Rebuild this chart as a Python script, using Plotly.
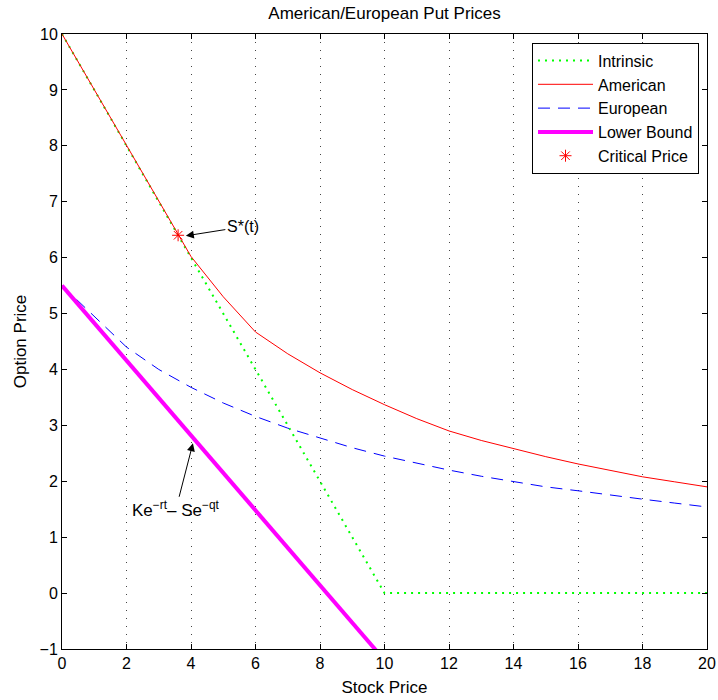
import plotly.graph_objects as go

# ---- data ----
stock = list(range(0, 21))
intrinsic = [10, 9, 8, 7, 6, 5, 4, 3, 2, 1, 0, 0, 0, 0, 0, 0, 0, 0, 0, 0, 0]
american = [10, 9, 8, 7, 6.02, 5.30, 4.67, 4.28, 3.94, 3.64, 3.37, 3.12, 2.90,
            2.73, 2.58, 2.44, 2.31, 2.19, 2.08, 1.99, 1.90]
european = [5.5, 4.95, 4.40, 4.0, 3.68, 3.40, 3.16, 2.95, 2.77, 2.60, 2.45, 2.32,
            2.20, 2.09, 1.99, 1.90, 1.83, 1.75, 1.68, 1.61, 1.54]
lower_bound = [5.5, 4.83, 4.16, 3.49, 2.82, 2.15, 1.48, 0.81, 0.14, -0.53, -1.2,
               -1.87, -2.54, -3.21, -3.88, -4.55, -5.22, -5.89, -6.56, -7.23, -7.9]
critical_x = [3.6]
critical_y = [6.4]
x_ticks = [0, 2, 4, 6, 8, 10, 12, 14, 16, 18, 20]
y_ticks = [-1, 0, 1, 2, 3, 4, 5, 6, 7, 8, 9, 10]

FONT = "Liberation Sans, Arial, Helvetica, sans-serif"

fig = go.Figure()
fig.add_trace(go.Scatter(x=stock, y=intrinsic, mode="lines", name="Intrinsic",
                         line=dict(color="#00ff00", width=2, dash="2px,5px")))
fig.add_trace(go.Scatter(x=stock, y=american, mode="lines", name="American",
                         line=dict(color="#ff0000", width=1)))
fig.add_trace(go.Scatter(x=stock, y=european, mode="lines", name="European",
                         line=dict(color="#0000ff", width=1, dash="12px,8px")))
fig.add_trace(go.Scatter(x=stock, y=lower_bound, mode="lines", name="Lower Bound",
                         line=dict(color="#ff00ff", width=4)))
fig.add_trace(go.Scatter(x=critical_x, y=critical_y, mode="markers", name="Critical Price",
                         marker=dict(symbol="asterisk-open", size=10,
                                     line=dict(color="#ff0000", width=1), color="#ff0000")))

fig.add_annotation(x=3.84, y=6.39, xref="x", yref="y", text="S*(t)",
                   showarrow=True, ax=57, ay=-9, arrowhead=2, arrowsize=1.6,
                   arrowwidth=1, arrowcolor="black",
                   font=dict(family=FONT, size=16, color="black"))
fig.add_annotation(x=4.06, y=2.68, xref="x", yref="y",
                   text="Ke<sup>−rt</sup>– Se<sup>−qt</sup>",
                   showarrow=True, ax=-17, ay=66, arrowhead=2, arrowsize=1.6,
                   arrowwidth=1, arrowcolor="black",
                   font=dict(family=FONT, size=17, color="black"))

axis_common = dict(showline=True, linecolor="black", linewidth=1, mirror="ticks",
                   ticks="inside", ticklen=5, tickcolor="black", zeroline=False,
                   automargin=False,
                   tickfont=dict(family=FONT, size=16, color="black"))

fig.update_xaxes(range=[0, 20], tickvals=x_ticks, showgrid=True, gridcolor="#444",
                 griddash="1px,7px", gridwidth=1,
                 title=dict(text="Stock Price", standoff=9,
                            font=dict(family=FONT, size=17, color="black")),
                 **axis_common)
fig.update_yaxes(range=[-1, 10], tickvals=y_ticks, showgrid=False,
                 title=dict(text="Option Price", standoff=8,
                            font=dict(family=FONT, size=17, color="black")),
                 **axis_common)

fig.update_layout(
    width=718, height=700,
    margin=dict(l=62, r=11, t=34, b=51),
    plot_bgcolor="white", paper_bgcolor="white",
    title=dict(text="American/European Put Prices", x=0.5356, xanchor="center",
               y=0.981, yanchor="middle",
               font=dict(family=FONT, size=17, color="black")),
    legend=dict(x=0.9876, y=0.986, xanchor="right", yanchor="top",
                bgcolor="white", bordercolor="black", borderwidth=1,
                font=dict(family=FONT, size=16, color="black"),
                tracegroupgap=0, itemwidth=55),
    showlegend=True,
)

fig.write_html("out.html")
